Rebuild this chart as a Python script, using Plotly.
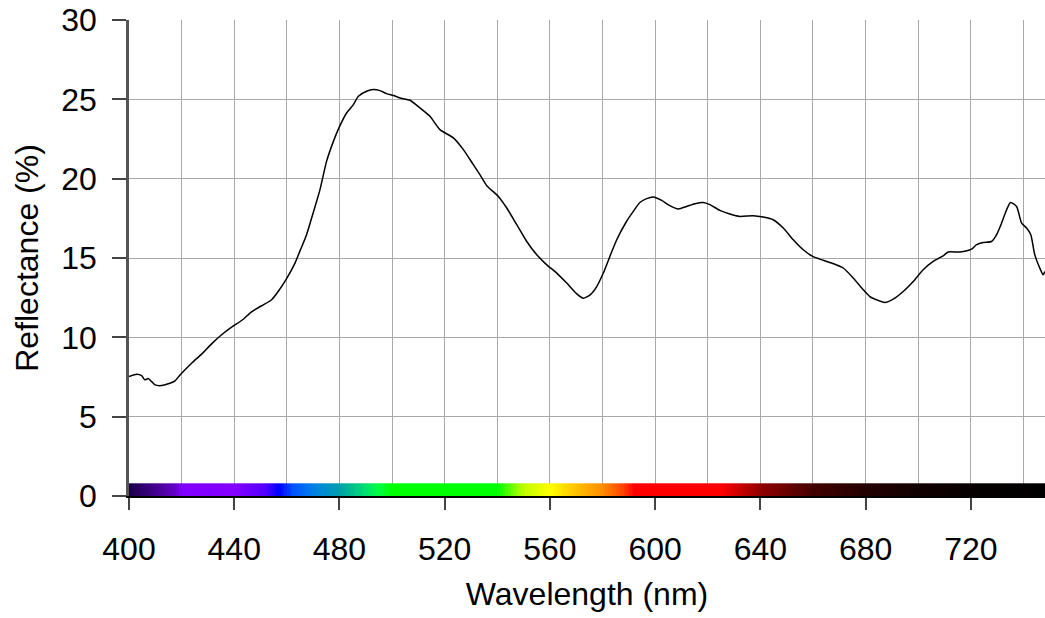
import numpy as np
import plotly.graph_objects as go

# Reflectance spectrum
wavelength = [400.0, 403.0, 404.8, 406.0, 407.3, 408.6, 409.9, 412.4, 414.9, 417.5, 419.4,
              423.8, 427.6, 431.4, 435.2, 439.0, 442.8, 446.6, 450.4, 454.2, 456.7, 459.8,
              463.1, 465.0, 467.5, 470.0, 472.6, 475.1, 477.7, 479.8, 482.7, 485.3, 487.2,
              490.3, 492.9, 495.4, 497.9, 500.5, 503.0, 506.8, 510.6, 514.4, 518.2, 523.3,
              527.1, 530.9, 533.4, 536.0, 540.4, 543.6, 547.4, 551.2, 555.0, 558.8, 562.6,
              566.4, 570.2, 572.7, 575.3, 577.8, 580.3, 582.8, 585.4, 589.1, 591.7, 594.2,
              596.8, 599.3, 602.5, 605.6, 608.8, 612.0, 615.1, 618.3, 620.8, 624.6, 628.4,
              632.2, 637.3, 641.1, 644.9, 648.7, 652.5, 656.3, 659.9, 662.6, 666.4, 671.5,
              675.3, 679.1, 681.6, 684.1, 687.3, 690.5, 694.3, 698.1, 701.9, 705.7, 709.5,
              711.4, 715.8, 720.3, 722.2, 724.7, 727.9, 729.8, 731.7, 733.6, 735.1, 737.4,
              739.3, 741.2, 742.8, 744.3, 746.2, 747.5, 748.1]
reflectance = [7.53, 7.68, 7.59, 7.32, 7.40, 7.21, 7.00, 6.96, 7.07, 7.26, 7.63,
               8.37, 8.94, 9.59, 10.16, 10.64, 11.06, 11.61, 11.99, 12.37, 12.89, 13.67,
               14.68, 15.45, 16.47, 17.84, 19.31, 21.09, 22.35, 23.20, 24.14, 24.67, 25.19,
               25.51, 25.62, 25.55, 25.36, 25.24, 25.09, 24.94, 24.46, 23.93, 23.09, 22.57,
               21.83, 20.88, 20.25, 19.56, 18.88, 18.15, 17.10, 16.04, 15.20, 14.57, 14.05,
               13.42, 12.74, 12.47, 12.68, 13.20, 14.05, 15.10, 16.15, 17.30, 17.94, 18.50,
               18.74, 18.84, 18.63, 18.30, 18.09, 18.25, 18.42, 18.50, 18.36, 18.00, 17.77,
               17.62, 17.67, 17.58, 17.41, 16.89, 16.15, 15.52, 15.10, 14.93, 14.72, 14.37,
               13.74, 13.00, 12.57, 12.37, 12.20, 12.41, 12.89, 13.52, 14.26, 14.78, 15.14,
               15.38, 15.38, 15.56, 15.84, 15.98, 16.04, 16.47, 17.20, 18.04, 18.50, 18.25,
               17.20, 16.89, 16.47, 15.21, 14.37, 13.94, 14.15]

# Visible-spectrum colour strip
strip_nm = [400, 418, 420, 440, 452, 457, 462, 470, 480, 490, 495, 500, 540, 550, 560,
            570, 580, 588, 592, 625, 640, 660, 680, 700, 720, 750]
strip_colors = ["#1a0048", "#6400c8", "#8000ff", "#8400ff", "#5000ff", "#0000ff", "#0050ff",
                "#0080e8", "#00a0a8", "#00e070", "#00ff40", "#00ff00", "#00ff00", "#c0ff00",
                "#ffff00", "#ffc000", "#ff8c00", "#ff4000", "#ff0000", "#ff0000", "#900000",
                "#420000", "#220000", "#120000", "#060000", "#000000"]
strip_height = 0.8

x_ticks = [400, 440, 480, 520, 560, 600, 640, 680, 720]
y_ticks = [0, 5, 10, 15, 20, 25, 30]

lo, hi = strip_nm[0], strip_nm[-1]
colorscale = [[(n - lo) / (hi - lo), c] for n, c in zip(strip_nm, strip_colors)]
edges = np.arange(lo, hi + 1, 1.0)
centers = (edges[:-1] + edges[1:]) / 2

fig = go.Figure()
fig.add_trace(go.Heatmap(
    x=edges, y=[0, strip_height], z=[centers],
    colorscale=colorscale, zmin=lo, zmax=hi, showscale=False, hoverinfo="skip"))
fig.add_trace(go.Scatter(
    x=wavelength, y=reflectance, mode="lines", line_shape="spline",
    line=dict(color="black", width=1.5, smoothing=0.6), showlegend=False))

font = dict(family="Liberation Sans, Arial, sans-serif", size=32, color="black")
fig.update_layout(
    width=1045, height=618,
    margin=dict(l=129, r=0, t=20, b=122),
    paper_bgcolor="white", plot_bgcolor="white",
    font=font, showlegend=False,
    xaxis=dict(
        range=[400, 748.2], tickvals=x_ticks, ticks="outside", ticklen=12, tickwidth=1.5,
        tickcolor="#444", showgrid=True, gridcolor="#a8a8a8", gridwidth=1,
        minor=dict(dtick=20, tick0=400, showgrid=True, gridcolor="#a8a8a8", gridwidth=1, ticks=""),
        showline=True, linecolor="black", linewidth=2, zeroline=False,
        ticklabelstandoff=12, automargin=False,
        title=dict(text="Wavelength (nm)", standoff=16, font=font)),
    yaxis=dict(
        range=[0, 30], tickvals=y_ticks, ticks="outside", ticklen=14, tickwidth=1.5,
        tickcolor="#444", showgrid=True, gridcolor="#a8a8a8", gridwidth=1,
        showline=True, linecolor="#555", linewidth=2.5, zeroline=False,
        ticklabelstandoff=9, automargin=False,
        title=dict(text="Reflectance (%)", standoff=14, font=font)),
)
fig.write_html("out.html", config={"displayModeBar": False},
               post_script="document.body.style.margin='0';document.body.style.overflow='hidden';")
